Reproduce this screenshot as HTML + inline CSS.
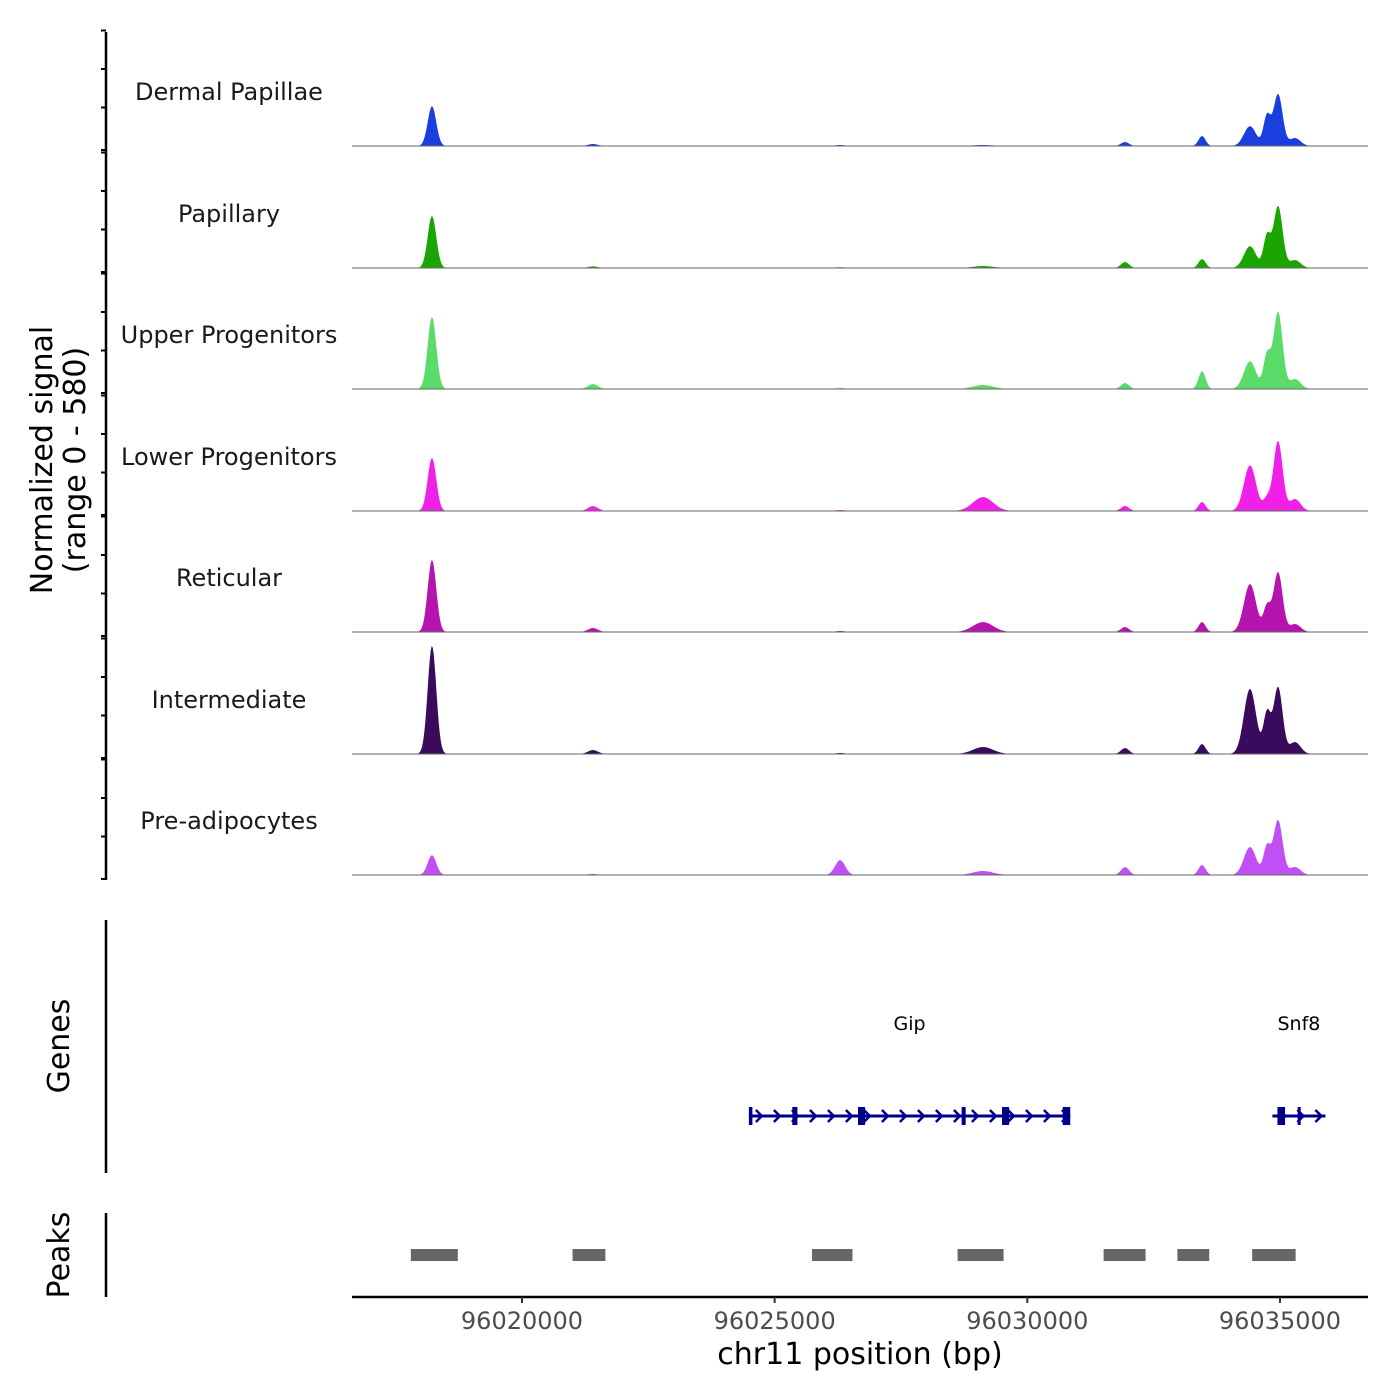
<!DOCTYPE html>
<html><head><meta charset="utf-8"><style>
body{margin:0;background:#fff}
svg{display:block;font-family:"DejaVu Sans","Liberation Sans",sans-serif}
</style></head><body>
<svg id="chart" width="1400" height="1400" viewBox="0 0 1400 1400"></svg>
<script>
// ---- data ----
const trackNames = ["Dermal Papillae","Papillary","Upper Progenitors","Lower Progenitors","Reticular","Intermediate","Pre-adipocytes"];
const trackColors = ["#1a3ee0","#1aa500","#5bdc6a","#f020e8","#b515ad","#3a0a5c","#c050f5"];
// peak centres (bp), heights (signal units), widths (bp sigma)
const peakCenters = [96018219,96021405,96026296,96029124,96031934,96033458,96034407,96034744,96034962,96035298];
const peakWidths  = [85,100,100,200,80,70,120,70,90,110];
const sigDP  = [200,10,5,5,20,50,100,150,262,40];
const sigPap = [262,8,4,10,30,45,110,160,312,40];
const sigUP  = [363,25,5,20,30,90,140,170,388,50];
const sigLP  = [267,25,5,70,25,45,230,60,353,60];
const sigRet = [363,20,5,50,25,50,242,126,302,40];
const sigInt = [545,20,5,35,30,50,328,202,338,60];
const sigPre = [100,5,75,20,40,50,141,141,277,40];
const signals = [sigDP,sigPap,sigUP,sigLP,sigRet,sigInt,sigPre];
const xTicks = [96020000,96025000,96030000,96035000];
const xTickLabels = ["96020000","96025000","96030000","96035000"];
const peakRegions = [[96017800,96018730],[96021000,96021650],[96025740,96026540],[96028620,96029530],[96031510,96032340],[96032970,96033600],[96034450,96035310]];
const genes = [
 {name:"Gip", start:96024490, end:96030850, exons:[[96024490,96024560],[96025350,96025450],[96026650,96026790],[96028700,96028780],[96029500,96029640],[96030700,96030850]]},
 {name:"Snf8", start:96034850, end:96035900, exons:[[96034950,96035100],[96035350,96035400]]}
];
// ---- scales ----
const X0=352,X1=1368,BP0=96016636,BP1=96036742;
const xs=bp=>X0+(bp-BP0)/(BP1-BP0)*(X1-X0);
const baselines=[146,268,389,511,632,754,875];
const ys=v=>v/580*115;
const NS="http://www.w3.org/2000/svg";
const svg=document.getElementById('chart');
function mk(tag,attrs,parent){const e=document.createElementNS(NS,tag);for(const k in attrs)e.setAttribute(k,attrs[k]);(parent||svg).appendChild(e);return e;}
// left axis
let ax=mk('line',{x1:106,y1:32,x2:106,y2:880,stroke:'#000','stroke-width':2.5});


baselines.forEach((b,i)=>{
 [0,38.5,77,115.5].forEach(o=>{const t=mk('line',{x1:101,y1:b-o+(o===0?4:0),x2:106,y2:b-o+(o===0?4:0),stroke:'#000','stroke-width':2});
 
 });
 const g=mk('g',{});
 
 
 const lab=mk('text',{x:229,y:b-46,'text-anchor':'middle','font-size':24,fill:'#1a1a1a'},g);
 lab.textContent=trackNames[i];
 
 
 let d=`M${xs(96017600)},${b}`;
 for(let px=xs(96017600);px<=xs(96035900);px+=1){
  const bp=BP0+(px-X0)/(X1-X0)*(BP1-BP0);
  let v=0;
  signals[i].forEach((h,k)=>{const z=(bp-peakCenters[k])/peakWidths[k];v+=h*Math.exp(-0.5*z*z);});
  d+=`L${px.toFixed(1)},${(b-ys(v)).toFixed(2)}`;
 }
 d+=`L${xs(96035900)},${b}Z`;
 const a=mk('path',{d:d,fill:trackColors[i]},g);
 
 
 const bl=mk('line',{x1:X0,y1:b,x2:X1,y2:b,stroke:'#666','stroke-width':1},g);
 
 
});
let yt=mk('text',{transform:'translate(52,460) rotate(-90)','text-anchor':'middle','font-size':30,fill:'#000'});


yt.innerHTML='<tspan x="0" dy="0">Normalized signal</tspan><tspan x="0" dy="33">(range 0 - 580)</tspan>';
// genes
let ga=mk('line',{x1:106,y1:920,x2:106,y2:1173,stroke:'#000','stroke-width':2.5});


let gt=mk('text',{transform:'translate(69,1046) rotate(-90)','text-anchor':'middle','font-size':30});
gt.textContent='Genes';


genes.forEach(g=>{
 const grp=mk('g',{});
 
 
 const x1=xs(g.start),x2=xs(g.end);
 mk('line',{x1:x1,y1:1116,x2:x2,y2:1116,stroke:'#00008b','stroke-width':3},grp);
 for(let p=x1+10;p<x2-5;p+=18){mk('path',{d:`M${p-3},${1110}L${p+3},${1116}L${p-3},${1122}`,fill:'none',stroke:'#00008b','stroke-width':2.5},grp);}
 g.exons.forEach(e=>{mk('rect',{x:xs(e[0]),y:1107,width:Math.max(3,xs(e[1])-xs(e[0])),height:18,fill:'#00008b'},grp);});
 const t=mk('text',{x:(x1+x2)/2,y:1030,'text-anchor':'middle','font-size':19},grp);
 t.textContent=g.name;
 
 
});
// peaks
let pa=mk('line',{x1:106,y1:1213,x2:106,y2:1297,stroke:'#000','stroke-width':2.5});


let pt=mk('text',{transform:'translate(69,1255) rotate(-90)','text-anchor':'middle','font-size':30});
pt.textContent='Peaks';


peakRegions.forEach(r=>{const e=mk('rect',{x:xs(r[0]),y:1249,width:xs(r[1])-xs(r[0]),height:12,fill:'#666'});
 
 });
// x axis
let xa=mk('line',{x1:X0,y1:1297,x2:X1,y2:1297,stroke:'#000','stroke-width':2.5});


xTicks.forEach((t,i)=>{
 const l=mk('line',{x1:xs(t),y1:1297,x2:xs(t),y2:1303,stroke:'#333','stroke-width':2});
 
 
 const tx=mk('text',{x:xs(t),y:1329,'text-anchor':'middle','font-size':24,fill:'#4d4d4d'});
 tx.textContent=xTickLabels[i];
 
 
});
let xt=mk('text',{x:860,y:1364,'text-anchor':'middle','font-size':30});
xt.textContent='chr11 position (bp)';


</script>
</body></html>
